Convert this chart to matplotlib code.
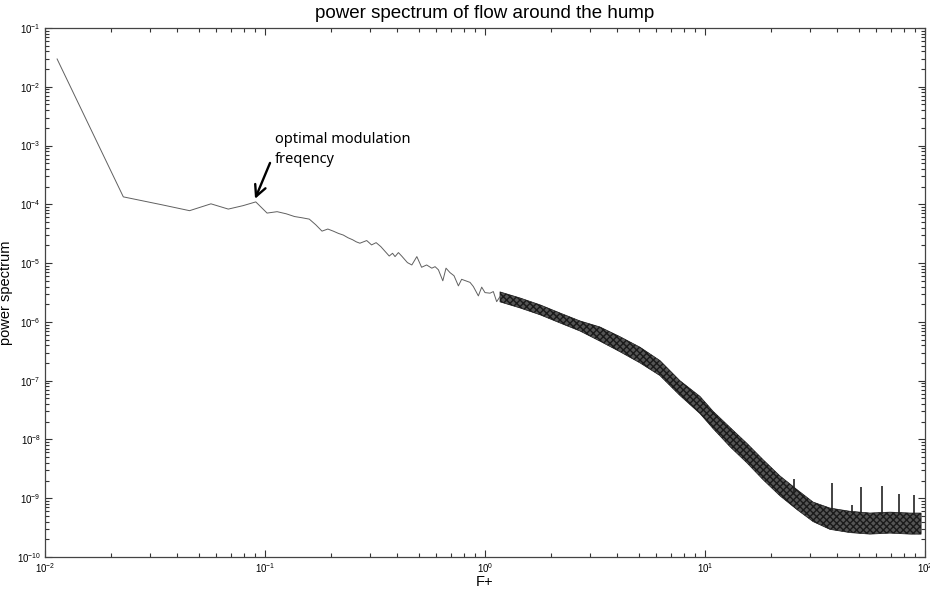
import numpy as np
import matplotlib
matplotlib.use("Agg")
import matplotlib.pyplot as plt
from matplotlib.ticker import LogLocator, LogFormatterSciNotation, NullFormatter

# low-frequency part of the spectrum
freq_low = [0.01135, 0.0227, 0.0341, 0.0454, 0.0568, 0.0681, 0.0795, 0.0908,
            0.1022, 0.1135, 0.1249, 0.1362, 0.1476, 0.159, 0.170, 0.1816,
            0.193, 0.2043, 0.2157, 0.227, 0.2384, 0.25, 0.26,
            0.270, 0.290, 0.305, 0.320, 0.336, 0.367, 0.380, 0.390, 0.404,
            0.418, 0.444, 0.465, 0.490, 0.515, 0.543, 0.573, 0.593, 0.614,
            0.643, 0.665, 0.693, 0.723, 0.757, 0.783, 0.855, 0.885, 0.933,
            0.966, 1.00, 1.054, 1.091, 1.130, 1.170]
power_low = [2.97e-2, 1.34e-4, 9.8e-5, 7.8e-5, 1.02e-4, 8.3e-5, 9.5e-5, 1.10e-4,
             7.1e-5, 7.5e-5, 6.9e-5, 6.2e-5, 5.9e-5, 5.6e-5, 4.5e-5, 3.5e-5,
             3.8e-5, 3.5e-5, 3.2e-5, 3.0e-5, 2.7e-5, 2.5e-5, 2.3e-5,
             2.18e-5, 2.42e-5, 2.04e-5, 2.23e-5, 1.91e-5, 1.32e-5, 1.47e-5,
             1.29e-5, 1.51e-5, 1.32e-5, 1.02e-5, 9.3e-6, 1.29e-5, 8.5e-6,
             9.3e-6, 8.2e-6, 8.7e-6, 7.7e-6, 5.0e-6, 8.2e-6, 6.9e-6, 6.1e-6,
             4.1e-6, 5.3e-6, 4.7e-6, 4.0e-6, 2.77e-6, 3.9e-6, 3.15e-6,
             3.08e-6, 3.28e-6, 2.21e-6, 2.69e-6]

# dense high-frequency part: upper / lower envelope of the noisy trace
freq_band = [1.17, 1.44, 1.78, 2.19, 2.70, 3.33, 4.11, 5.07, 6.24, 7.69,
             9.49, 10.9, 13.0, 15.5, 18.4, 21.9, 26.2, 31.0, 37.0, 45.6,
             56.2, 69.3, 85.5, 96.0]
power_top = [3.24e-6, 2.56e-6, 1.95e-6, 1.42e-6, 1.04e-6, 8.2e-7, 5.6e-7,
             3.7e-7, 2.2e-7, 1.0e-7, 5.4e-8, 3.0e-8, 1.6e-8, 8.6e-9,
             4.5e-9, 2.4e-9, 1.4e-9, 8.6e-10, 6.8e-10, 6.0e-10, 5.6e-10,
             5.8e-10, 5.6e-10, 5.6e-10]
power_bot = [2.19e-6, 1.73e-6, 1.32e-6, 9.6e-7, 7.0e-7, 4.7e-7, 3.1e-7,
             2.0e-7, 1.22e-7, 5.6e-8, 2.75e-8, 1.52e-8, 7.5e-9, 4.0e-9,
             2.05e-9, 1.1e-9, 6.4e-10, 4.0e-10, 2.95e-10, 2.6e-10,
             2.45e-10, 2.55e-10, 2.45e-10, 2.45e-10]

# narrow peaks sticking out of the noise floor
spike_freq = [25.4, 37.8, 46.6, 51.2, 63.8, 76.3, 89.1]
spike_peak = [2.14e-9, 1.83e-9, 7.7e-10, 1.55e-9, 1.61e-9, 1.19e-9, 1.14e-9]
spike_base = [1.3e-9, 6.0e-10, 5.5e-10, 5.5e-10, 5.4e-10, 5.3e-10, 5.2e-10]

# annotation: text anchor, arrow tail and arrow tip (data coordinates)
note_xy = (0.111, 4.3e-4)
arrow_tail = (0.1054, 5.06e-4)
arrow_tip = (0.0901, 1.24e-4)

plt.rcParams['font.family'] = ['Liberation Sans', 'DejaVu Sans']
plt.rcParams['mathtext.default'] = 'regular'

fig = plt.figure(figsize=(9.3, 5.9), dpi=100)
ax = fig.add_axes([45 / 930, 33 / 590, 880 / 930, 529 / 590])

ax.plot(freq_low, power_low, color='#606060', linewidth=0.7)
ax.fill_between(freq_band, power_bot, power_top, facecolor='#555555',
                edgecolor='#1a1a1a', hatch='xxxxx', linewidth=0.5)
ax.vlines(spike_freq, spike_base, spike_peak, color='#222222', linewidth=1.2)

ax.set_xscale('log')
ax.set_yscale('log')
ax.set_xlim(1e-2, 1e2)
ax.set_ylim(1e-10, 1e-1)

for axis in (ax.xaxis, ax.yaxis):
    axis.set_major_locator(LogLocator(base=10, numticks=20))
    axis.set_minor_locator(LogLocator(base=10, subs=np.arange(2, 10), numticks=20))
    axis.set_major_formatter(LogFormatterSciNotation())
    axis.set_minor_formatter(NullFormatter())

ax.tick_params(which='both', direction='in', top=True, right=True,
               labelsize=7, colors='#333333', labelcolor='black', pad=3)
ax.tick_params(which='major', length=5, width=0.8)
ax.tick_params(which='minor', length=3, width=0.8)
for s in ax.spines.values():
    s.set_color('#444444')
    s.set_linewidth(0.9)

ax.set_title('power spectrum of flow around the hump', fontsize=13.5, pad=7)
ax.set_xlabel('F+', fontsize=10.5, va='top')
ax.xaxis.set_label_coords(0.5, -0.034)
ax.set_ylabel('power spectrum', fontsize=10.5)
ax.yaxis.set_label_coords(-0.036, 0.5)

ax.annotate('', xy=arrow_tip, xytext=arrow_tail,
            arrowprops=dict(arrowstyle='->', color='black', lw=1.7,
                            shrinkA=0, shrinkB=0, mutation_scale=20))
ax.text(note_xy[0], note_xy[1], 'optimal modulation\nfreqency', fontsize=10.5,
        family='Noto Sans', linespacing=1.45, ha='left', va='bottom')

fig.savefig('out.png', dpi=100)
